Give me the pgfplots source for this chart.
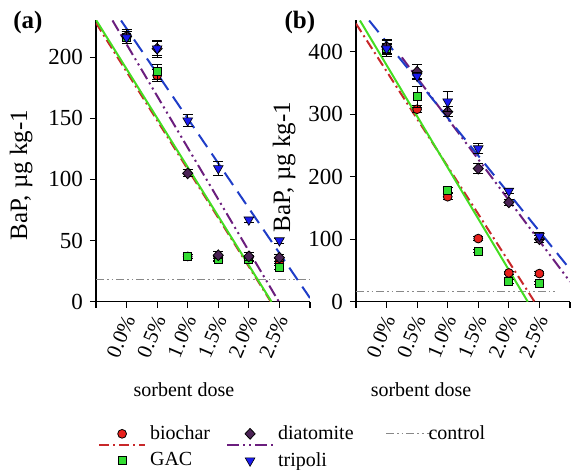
\documentclass[border=0pt]{standalone}
\usepackage{fontspec}
\setmainfont{Liberation Serif}
\usepackage{pgfplots}
\pgfplotsset{compat=1.18}
\usetikzlibrary{calc}
\definecolor{cbioM}{HTML}{E8201C}
\definecolor{cbioL}{HTML}{C8282A}
\definecolor{cgacM}{HTML}{33DD33}
\definecolor{cgacL}{HTML}{44DD22}
\definecolor{cdiaM}{HTML}{4B2355}
\definecolor{cdiaL}{HTML}{6B1E7E}
\definecolor{ctriM}{HTML}{1A1AEE}
\definecolor{ctriL}{HTML}{1F3DC8}
\definecolor{cctrl}{HTML}{888888}
\tikzset{
 sbioL/.style={cbioL, line width=1pt, dash pattern=on 5pt off 2pt on 1pt off 2pt},
 sgacL/.style={cgacL, line width=1pt, solid},
 sdiaL/.style={cdiaL, line width=1pt, dash pattern=on 6pt off 2pt on 1pt off 2pt on 1pt off 2pt},
 striL/.style={ctriL, line width=1pt, dash pattern=on 7.5pt off 4pt},
 sctrlL/.style={cctrl, line width=0.5pt, dash pattern=on 4pt off 1.5pt on 0.8pt off 1.5pt on 0.8pt off 1.5pt},
}
\pgfplotsset{
 ebars/.style={/pgfplots/error bars/y dir=both, /pgfplots/error bars/y explicit,
   /pgfplots/error bars/error bar style={black, line width=0.5pt, solid},
   /pgfplots/error bars/error mark options={rotate=90, black, mark size=2.5pt, line width=0.5pt, solid}},
 sbioM/.style={only marks, mark=*, mark size=2.2pt, mark options={fill=cbioM, draw=black, line width=0.4pt, solid}, ebars},
 sgacM/.style={only marks, mark=square*, mark size=2pt, mark options={fill=cgacM, draw=black, line width=0.4pt, solid}, ebars},
 sdiaM/.style={only marks, mark=diamond*, mark size=2.7pt, mark options={fill=cdiaM, draw=black, line width=0.4pt, solid, xscale=1.25}, ebars},
 striM/.style={only marks, mark=triangle*, mark size=2.8pt, mark options={fill=ctriM, draw=black, line width=0.3pt, solid, rotate=180}, ebars},
 base/.style={
  scale only axis, width=107pt, height=140.6pt,
  xmin=0, xmax=7, ymin=0, clip mode=individual,
  axis x line*=bottom, axis y line*=left,
  axis line style={black, line width=0.6pt},
  tick align=outside, major tick length=3pt,
  tick style={black, line width=0.6pt},
  xtick={0,1,2,3,4,5,6,7},
  xticklabels={,0.0\%,0.5\%,1.0\%,1.5\%,2.0\%,2.5\%,},
  xticklabel style={rotate=67, anchor=east, yshift=-3pt, font=\fontsize{10.5}{12}\selectfont},
  yticklabel style={font=\fontsize{11.5}{13}\selectfont},
  /pgf/number format/assume math mode=true,
  xlabel={sorbent dose}, ylabel={BaP, µg kg-1},
  xlabel style={font=\fontsize{10}{12}\selectfont, anchor=center},
  ylabel style={font=\fontsize{12.5}{14}\selectfont, anchor=center},
 }
}
\begin{document}
\begin{tikzpicture}
\path[use as bounding box] (-48pt,-84.15pt) rectangle (239.5pt,150.85pt);
\begin{axis}[base, name=A, at={(0,0)}, anchor=south west,
  ymax=230, ytick={0,50,100,150,200},
  xlabel style={at={(rel axis cs:0.411,-0.314)}},
  ylabel style={at={(rel axis cs:-0.35,0.45)}},
  legend columns=3,
  legend cell align=left,
  legend style={at={(-0.02,-0.41)}, anchor=north west, draw=none, fill=none,
    font=\fontsize{10}{12}\selectfont, row sep=1pt,
    /tikz/every even column/.append style={column sep=6pt}},
]
\addplot[sctrlL, forget plot] coordinates {(0,18) (7,18)};
\addplot[sbioL, forget plot] coordinates {(0,228) (5.72,0)};
\addplot[sgacL, forget plot] coordinates {(0,230.5) (5.74,0)};
\addplot[sdiaL, forget plot] coordinates {(0.54,230) (5.98,0)};
\addplot[striL, forget plot] coordinates {(0.82,230) (7,3)};
\addplot[sbioM, forget plot] coordinates {(1,216) +- (0,5) (2,185) +- (0,5) (3,37) +- (0,2) (4,36) +- (0,2) (5,36) +- (0,2) (6,33) +- (0,2)};
\addplot[sgacM, forget plot] coordinates {(1,216) +- (0,5) (2,188) +- (0,6) (3,37) +- (0,2) (4,35) +- (0,2) (5,35) +- (0,2) (6,28) +- (0,2)};
\addplot[sdiaM, forget plot] coordinates {(1,217) +- (0,6) (2,207) +- (0,6) (3,105) +- (0,3) (4,38) +- (0,3) (5,37) +- (0,3) (6,36) +- (0,3)};
\addplot[striM, forget plot] coordinates {(1,216) +- (0,5) (2,207) +- (0,7) (3,148) +- (0,5) (4,109) +- (0,6) (5,67) +- (0,2) (6,50) +- (0,2)};
\node[font=\bfseries\fontsize{12.5}{14}\selectfont] at (rel axis cs:-0.318,0.994) {(a)};
\addlegendimage{legend image code/.code={
  \draw[sbioL] (0pt,-5.5pt) -- (23pt,-5.5pt);
  \path[mark=*, mark size=2.2pt, mark options={fill=cbioM, draw=black, line width=0.4pt, solid}] plot coordinates {(11.5pt,0pt)};}}
\addlegendentry{biochar}
\addlegendimage{legend image code/.code={
  \draw[sdiaL] (0pt,-5.5pt) -- (23pt,-5.5pt);
  \path[mark=diamond*, mark size=2.7pt, mark options={fill=cdiaM, draw=black, line width=0.4pt, solid, xscale=1.25}] plot coordinates {(11.5pt,0pt)};}}
\addlegendentry{diatomite\rule{8pt}{0pt}}
\addlegendimage{legend image code/.code={
  \draw[sctrlL] (0pt,0pt) -- (23pt,0pt);}}
\addlegendentry{\hspace{-4pt}control}
\addlegendimage{legend image code/.code={
  \draw[sgacL] (0pt,-5.5pt) -- (23pt,-5.5pt);
  \path[mark=square*, mark size=2pt, mark options={fill=cgacM, draw=black, line width=0.4pt, solid}] plot coordinates {(11.5pt,0pt)};}}
\addlegendentry{GAC}
\addlegendimage{legend image code/.code={
  \draw[striL] (0pt,-5.5pt) -- (23pt,-5.5pt);
  \path[mark=triangle*, mark size=2.8pt, mark options={fill=ctriM, draw=black, line width=0.3pt, solid, rotate=180}] plot coordinates {(11.5pt,0pt)};}}
\addlegendentry{tripoli}
\end{axis}
\begin{axis}[base, name=B, at={($(A.south east)+(23pt,0)$)}, anchor=south west,
  ymax=450, ytick={0,100,200,300,400},
  xlabel style={at={(rel axis cs:0.304,-0.314)}},
  ylabel style={at={(rel axis cs:-0.336,0.479)}},
]
\addplot[sctrlL, forget plot] coordinates {(0,16) (6.6,16)};
\addplot[sbioL, forget plot] coordinates {(0,445) (5.84,0)};
\addplot[sgacL, forget plot] coordinates {(0.13,450) (5.62,0)};
\addplot[sdiaL, forget plot] coordinates {(1.5,391) (7,32)};
\addplot[striL, forget plot] coordinates {(0.43,450) (7,52)};
\addplot[sbioM, forget plot] coordinates {(1,404) +- (0,8) (2,308) +- (0,6) (3,168) +- (0,5) (4,101) +- (0,3) (5,46) +- (0,3) (6,45) +- (0,3)};
\addplot[sgacM, forget plot] coordinates {(1,405) +- (0,8) (2,328) +- (0,17) (3,178) +- (0,4) (4,81) +- (0,3) (5,32) +- (0,3) (6,30) +- (0,3)};
\addplot[sdiaM, forget plot] coordinates {(1,408) +- (0,12) (2,368) +- (0,11) (3,304) +- (0,8) (4,213) +- (0,8) (5,159) +- (0,5) (6,100) +- (0,6)};
\addplot[striM, forget plot] coordinates {(1,405) +- (0,13) (2,361) +- (0,6) (3,320) +- (0,16) (4,245) +- (0,8) (5,177) +- (0,4) (6,105) +- (0,5)};
\node[font=\bfseries\fontsize{12.5}{14}\selectfont] at (rel axis cs:-0.262,0.994) {(b)};
\end{axis}
\end{tikzpicture}
\end{document}
